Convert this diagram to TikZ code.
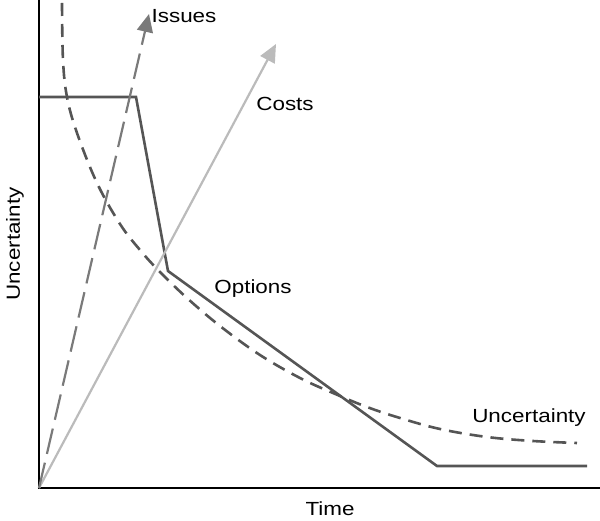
\documentclass[tikz,border=0pt]{standalone}
\usepackage{fontspec}
\setmainfont[FakeStretch=1.18]{Liberation Sans}
\usetikzlibrary{arrows.meta}
\definecolor{optgray}{HTML}{555555}
\definecolor{issgray}{HTML}{7A7A7A}
\definecolor{costgray}{HTML}{BBBBBB}
\tikzset{
  axisline/.style={line width=2.5pt,black},
  optline/.style={line width=2.6pt,optgray,line join=miter},
  uncline/.style={line width=2.6pt,optgray,dash pattern=on 13pt off 8pt},
  issline/.style={line width=2.2pt,issgray,dash pattern=on 26pt off 9pt,
    -{Triangle[length=18pt,width=16pt]}},
  costline/.style={line width=2.2pt,costgray,-{Triangle[length=18pt,width=16pt]}},
  lbl/.style={font=\fontsize{19}{21}\selectfont,inner sep=0pt,text=black}
}
\begin{document}
\begin{tikzpicture}[x=1pt,y=-1pt]
\useasboundingbox (0,0) rectangle (600,521);
% axes
\coordinate (top) at (39,0);
\coordinate (origin) at (39,488);
\coordinate (right) at (600,488);
\draw[axisline] (top) -- (origin) -- (right);
% reference points
\coordinate (o1) at (39,97);
\coordinate (o2) at (136,97);
\coordinate (o3) at (168,271);
\coordinate (o4) at (437,466);
\coordinate (o5) at (587,466);
\coordinate (isstip) at (149,14);
\coordinate (costtip) at (276,44);
% options
\draw[optline] (o1) -- (o2) -- (o3) -- (o4) -- (o5);
% uncertainty curve
\draw[uncline] plot[smooth,tension=0.6] coordinates {
  (62,3) (63,60) (67,97) (77,133) (97,183) (120,224) (140,250) (160,272)
  (187,298) (220,326) (260,355) (300,378) (333,393) (367,407) (400,418)
  (440,429) (487,437) (533,441) (577,443)};
% issues and costs
\draw[costline] (origin) -- (costtip);
\draw[issline] (origin) -- (isstip);
% labels
\node[lbl] (issues) at (184,16) {Issues};
\node[lbl] (costs) at (285,104) {Costs};
\node[lbl] (options) at (253,289) {Options};
\node[lbl] (unc) at (529,418) {Uncertainty};
\node[lbl] (time) at (330,509) {Time};
\node[lbl,rotate=90] (uncy) at (15,244) {Uncertainty};
\end{tikzpicture}
\end{document}
